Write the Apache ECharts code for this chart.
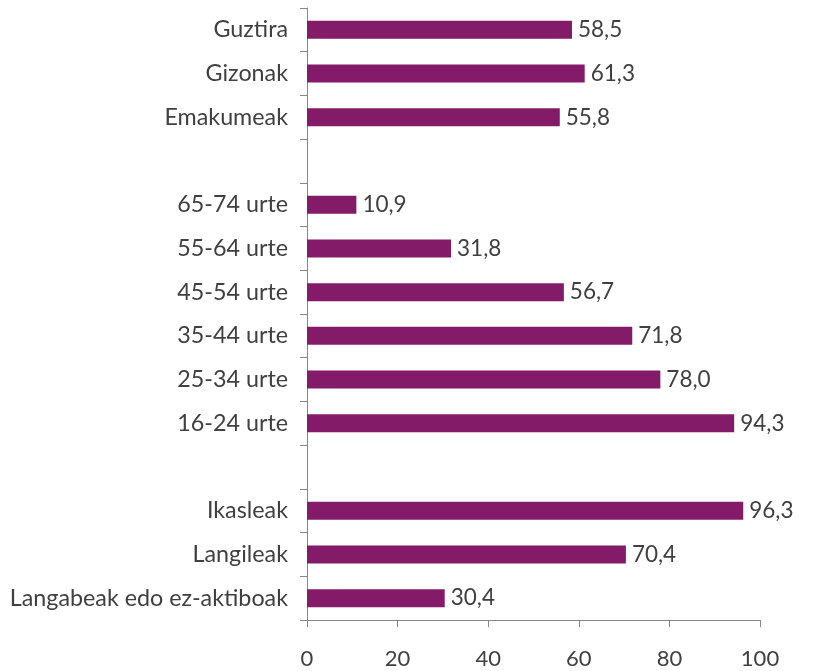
<!DOCTYPE html>
<html>
<head>
<meta charset="utf-8">
<script src="https://cdn.jsdelivr.net/npm/echarts@6/dist/echarts.min.js"></script>
<style>html,body{margin:0;padding:0;background:#fff}#c{width:818px;height:671px}</style>
</head>
<body>
<div id="c"></div>
<script>
const categories = ['Guztira','Gizonak','Emakumeak','','65-74 urte','55-64 urte','45-54 urte','35-44 urte','25-34 urte','16-24 urte',' ','Ikasleak','Langileak','Langabeak edo ez-aktiboak'];
const values = [58.5, 61.3, 55.8, null, 10.9, 31.8, 56.7, 71.8, 78.0, 94.3, null, 96.3, 70.4, 30.4];
const xTicks = [0, 20, 40, 60, 80, 100];

const FONT = 'Lato';
const TXT = '#404040';
const AX = '#868686';
const chart = echarts.init(document.getElementById('c'), null, {renderer: 'canvas'});
chart.setOption({
  animation: false,
  grid: {left: 307, right: 58, top: 8, bottom: 51, containLabel: false},
  xAxis: {
    type: 'value', min: xTicks[0], max: xTicks[xTicks.length-1], interval: 20,
    axisLine: {show: true, lineStyle: {color: AX, width: 1}},
    axisTick: {show: true, length: 7, lineStyle: {color: AX}},
    splitLine: {show: false},
    axisLabel: {fontFamily: FONT, fontSize: 22, color: TXT, margin: 28}
  },
  yAxis: {
    type: 'category', inverse: true, data: categories,
    axisLine: {show: true, lineStyle: {color: AX, width: 1}},
    axisTick: {show: true, length: 7, interval: 0, lineStyle: {color: AX}},
    axisLabel: {fontFamily: FONT, fontSize: 23.3, color: TXT, margin: 19, interval: 0}
  },
  series: [{
    type: 'bar', data: values, barWidth: 18,
    itemStyle: {color: '#831B68'},
    label: {show: true, position: 'right', distance: 6, fontFamily: FONT, fontSize: 22.5, color: TXT,
      formatter: p => p.value == null ? '' : p.value.toFixed(1).replace('.', ',')}
  }]
});
</script>
</body>
</html>
